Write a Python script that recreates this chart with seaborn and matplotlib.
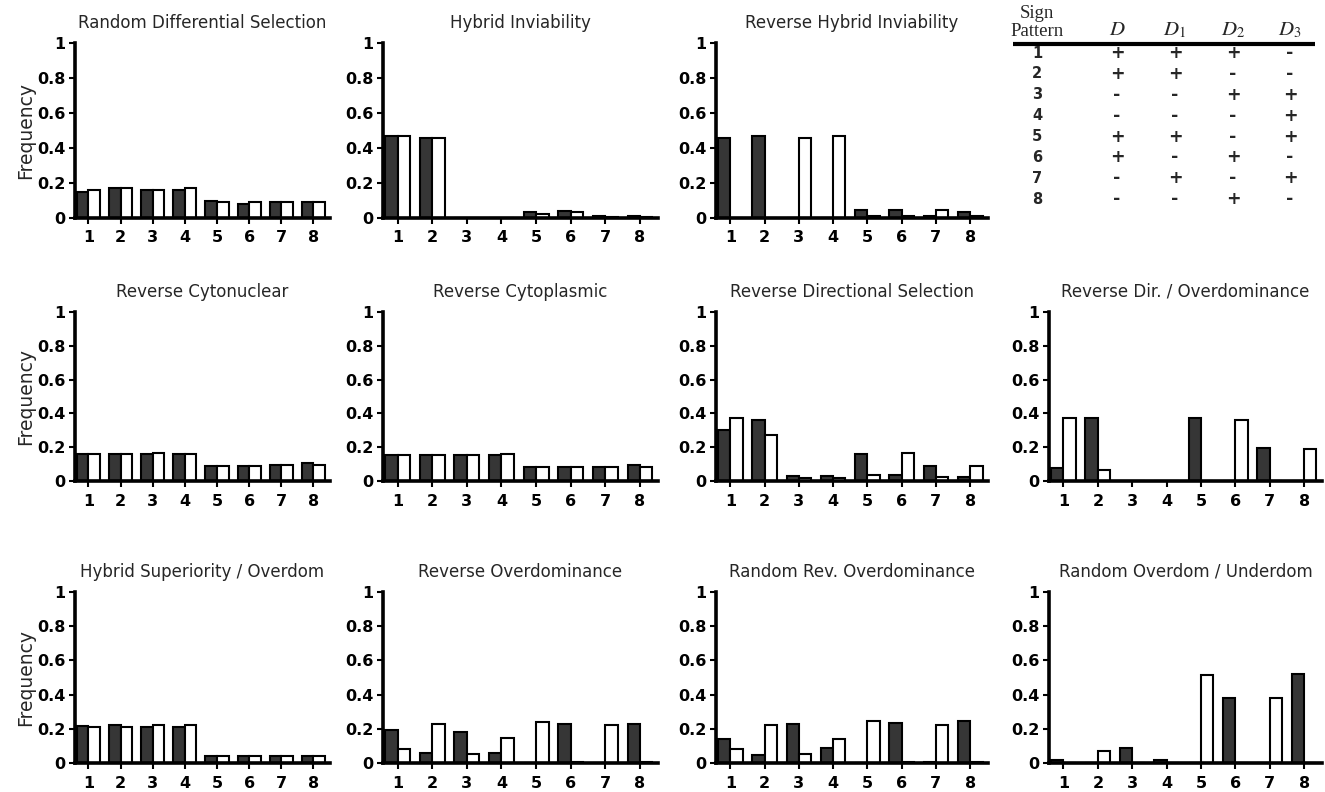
import numpy as np
import pandas as pd
import matplotlib
matplotlib.use("Agg")
import matplotlib.pyplot as plt
import seaborn as sns
from matplotlib.transforms import ScaledTranslation

# ---------------- data ----------------
patterns = ["1", "2", "3", "4", "5", "6", "7", "8"]
y_ticks = [0, 0.2, 0.4, 0.6, 0.8, 1.0]
y_tick_labels = ["0", "0.2", "0.4", "0.6", "0.8", "1"]

rds_dark = [0.15, 0.17, 0.16, 0.16, 0.10, 0.08, 0.09, 0.09]
rds_white = [0.16, 0.17, 0.16, 0.17, 0.09, 0.09, 0.09, 0.09]
hi_dark = [0.47, 0.46, 0.0, 0.0, 0.035, 0.04, 0.012, 0.01]
hi_white = [0.47, 0.46, 0.0, 0.0, 0.025, 0.035, 0.005, 0.005]
rhi_dark = [0.46, 0.47, 0.0, 0.0, 0.045, 0.045, 0.01, 0.035]
rhi_white = [0.0, 0.0, 0.46, 0.47, 0.01, 0.01, 0.045, 0.01]
rcn_dark = [0.16, 0.16, 0.16, 0.16, 0.09, 0.09, 0.095, 0.105]
rcn_white = [0.16, 0.16, 0.165, 0.16, 0.09, 0.09, 0.095, 0.095]
rcp_dark = [0.155, 0.155, 0.155, 0.155, 0.085, 0.085, 0.085, 0.095]
rcp_white = [0.155, 0.155, 0.155, 0.16, 0.085, 0.085, 0.085, 0.085]
rdsel_dark = [0.30, 0.36, 0.03, 0.03, 0.16, 0.035, 0.09, 0.025]
rdsel_white = [0.37, 0.27, 0.02, 0.02, 0.035, 0.165, 0.025, 0.09]
rdo_dark = [0.075, 0.37, 0.0, 0.0, 0.37, 0.0, 0.195, 0.0]
rdo_white = [0.37, 0.065, 0.0, 0.0, 0.0, 0.36, 0.0, 0.19]
hso_dark = [0.215, 0.22, 0.21, 0.21, 0.04, 0.04, 0.04, 0.04]
hso_white = [0.21, 0.21, 0.22, 0.22, 0.04, 0.04, 0.04, 0.04]
ro_dark = [0.195, 0.06, 0.18, 0.06, 0.0, 0.23, 0.0, 0.23]
ro_white = [0.08, 0.23, 0.05, 0.145, 0.24, 0.005, 0.22, 0.005]
rro_dark = [0.14, 0.045, 0.23, 0.085, 0.0, 0.235, 0.005, 0.245]
rro_white = [0.08, 0.225, 0.05, 0.14, 0.245, 0.005, 0.225, 0.005]
rou_dark = [0.02, 0.0, 0.085, 0.02, 0.0, 0.38, 0.0, 0.52]
rou_white = [0.0, 0.07, 0.0, 0.0, 0.515, 0.0, 0.38, 0.0]

panels = [
    ("Random Differential Selection", rds_dark, rds_white),
    ("Hybrid Inviability", hi_dark, hi_white),
    ("Reverse Hybrid Inviability", rhi_dark, rhi_white),
    None,
    ("Reverse Cytonuclear", rcn_dark, rcn_white),
    ("Reverse Cytoplasmic", rcp_dark, rcp_white),
    ("Reverse Directional Selection", rdsel_dark, rdsel_white),
    ("Reverse Dir. / Overdominance", rdo_dark, rdo_white),
    ("Hybrid Superiority / Overdom", hso_dark, hso_white),
    ("Reverse Overdominance", ro_dark, ro_white),
    ("Random Rev. Overdominance", rro_dark, rro_white),
    ("Random Overdom / Underdom", rou_dark, rou_white),
]

# sign-pattern table
table_headers = ["D", "D_{\\mathit{1}}", "D_{\\mathit{2}}", "D_{\\mathit{3}}"]
sign_D = ["+", "+", "-", "-", "+", "+", "-", "-"]
sign_D1 = ["+", "+", "-", "-", "+", "-", "+", "-"]
sign_D2 = ["+", "-", "+", "-", "-", "+", "-", "+"]
sign_D3 = ["-", "-", "+", "+", "+", "-", "+", "-"]

# ---------------- style ----------------
sns.set_style("ticks")
plt.rcParams["font.family"] = ["DejaVu Sans"]
plt.rcParams["mathtext.fontset"] = "stix"

W, H = 1325, 792
fig = plt.figure(figsize=(W / 100, H / 100), dpi=100)

col_px = [(75, 330), (383, 658), (716, 988), (1049, 1322)]
row_px = [(43, 218), (312, 481), (592, 763)]

dark_color = "#363636"
tick_font = dict(fontsize=11.5, fontweight="bold")

for idx, panel in enumerate(panels):
    if panel is None:
        continue
    r, c = divmod(idx, 4)
    x0, x1 = col_px[c]
    y0, y1 = row_px[r]
    ax = fig.add_axes([x0 / W, 1 - y1 / H, (x1 - x0) / W, (y1 - y0) / H])
    title, dvals, wvals = panel
    df = pd.DataFrame({
        "pattern": patterns * 2,
        "freq": list(dvals) + list(wvals),
        "type": ["dark"] * len(patterns) + ["white"] * len(patterns),
    })
    sns.barplot(data=df, x="pattern", y="freq", hue="type", order=patterns,
                hue_order=["dark", "white"],
                palette={"dark": dark_color, "white": "white"},
                edgecolor="black", linewidth=1.5, width=0.72, gap=0,
                errorbar=None, legend=False, ax=ax, zorder=2)
    ax.set_xlim(-0.42, 7.52)
    ax.set_ylim(0, 1.0)
    ax.set_yticks(y_ticks)
    ax.set_yticklabels(y_tick_labels, **tick_font)
    ax.set_xticks(range(len(patterns)))
    ax.set_xticklabels(patterns, **tick_font)
    off = ScaledTranslation(3.5 / 72, 0, fig.dpi_scale_trans)
    for lbl in ax.get_xticklabels():
        lbl.set_transform(lbl.get_transform() + off)
    ax.tick_params(axis="y", direction="out", length=4, width=1.5, pad=3,
                   colors="black")
    ax.tick_params(axis="x", direction="out", length=4, width=1.5, pad=5,
                   colors="black")
    for s in ["top", "right"]:
        ax.spines[s].set_visible(False)
    for s in ["left", "bottom"]:
        ax.spines[s].set_linewidth(2.6)
        ax.spines[s].set_color("black")
        ax.spines[s].set_zorder(3)
    ax.set_xlabel("")
    if c == 0:
        ax.set_ylabel("Frequency", fontsize=13.5, labelpad=1)
    else:
        ax.set_ylabel("")
    ax.set_title(title, fontsize=12, pad=11)
    ax.set_facecolor("white")

# table panel
tx = fig.add_axes([990 / W, 1 - 250 / H, 335 / W, 250 / H])
tx.set_xlim(0, 335)
tx.set_ylim(250, 0)
tx.axis("off")
num_x = 47
sign_cols_x = [127, 185, 243, 300]
tx.text(num_x, 18, "Sign", ha="center", va="baseline",
        family="Liberation Serif", fontsize=13.5)
tx.text(num_x, 36, "Pattern", ha="center", va="baseline",
        family="Liberation Serif", fontsize=13.5)
for hx, hd in zip(sign_cols_x, table_headers):
    tx.text(hx, 35, "$" + hd + "$", ha="center", va="baseline", fontsize=15)
tx.plot([23, 325], [43.5, 43.5], color="black", lw=3, solid_capstyle="butt")
row_y0, row_dy = 53, 20.9
columns = [sign_D, sign_D1, sign_D2, sign_D3]
for k, p in enumerate(patterns):
    yy = row_y0 + row_dy * k
    tx.text(num_x, yy, p, ha="center", va="center", fontsize=10.5,
            fontweight="bold")
    for hx, col in zip(sign_cols_x, columns):
        tx.text(hx, yy, col[k], ha="center", va="center", fontsize=12.5,
                fontweight="bold")

fig.savefig("out.png", dpi=100, facecolor="white")
